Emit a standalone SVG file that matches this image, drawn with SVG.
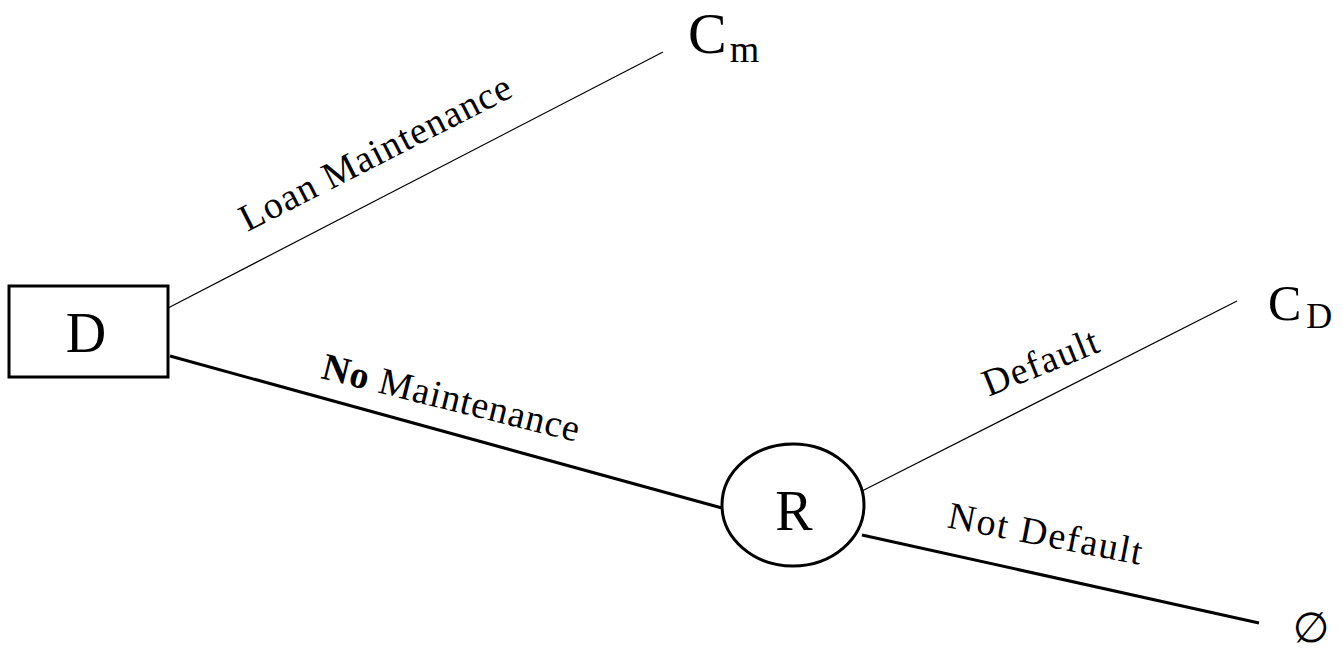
<svg xmlns="http://www.w3.org/2000/svg" width="1343" height="655" viewBox="0 0 1343 655">
<style>
text{font-family:"Liberation Serif","Times New Roman",serif;fill:#000}
.thin{stroke:#000;stroke-width:1.2;fill:none}
.thick{stroke:#000;stroke-width:3;fill:none}
.node{stroke:#000;stroke-width:3;fill:#fff}
.big{font-size:56px}
.lbl{font-size:38px;text-anchor:middle}
</style>
<rect width="1343" height="655" fill="#fff"/>
<g id="connectors">
<line class="thin" x1="168" y1="308" x2="663" y2="52"/>
<line class="thick" x1="170" y1="356" x2="722" y2="508"/>
<line class="thin" x1="862" y1="491" x2="1237" y2="301"/>
<line class="thick" x1="862" y1="535" x2="1259" y2="623"/>
<text class="lbl" transform="translate(381,164) rotate(-27)" textLength="300" lengthAdjust="spacing">Loan Maintenance</text>
<text class="lbl" transform="translate(448,410) rotate(14)" textLength="264" lengthAdjust="spacing"><tspan font-weight="bold">No</tspan> Maintenance</text>
<text class="lbl" transform="translate(1045,374) rotate(-22)" textLength="122" lengthAdjust="spacing">Default</text>
<text class="lbl" transform="translate(1043,546) rotate(11)" textLength="197" lengthAdjust="spacing" font-size="36">Not Default</text>
</g>
<g id="node-D">
<rect class="node" x="9" y="286" width="159" height="91"/>
<text class="big" x="86" y="352" text-anchor="middle">D</text>
</g>
<g id="node-R">
<ellipse class="node" cx="793" cy="505" rx="71" ry="61"/>
<text class="big" x="794" y="530" text-anchor="middle">R</text>
</g>
<g id="node-Cm">
<text x="688" y="53" font-size="58">C<tspan font-size="38" dx="3" dy="9">m</tspan></text>
</g>
<g id="node-CD">
<text x="1268" y="320" font-size="50">C<tspan font-size="36" dx="5" dy="8">D</tspan></text>
</g>
<g id="node-empty">
<text x="1311" y="642" font-size="42" text-anchor="middle" style="font-family:'DejaVu Sans',sans-serif">∅</text>
</g>
</svg>
